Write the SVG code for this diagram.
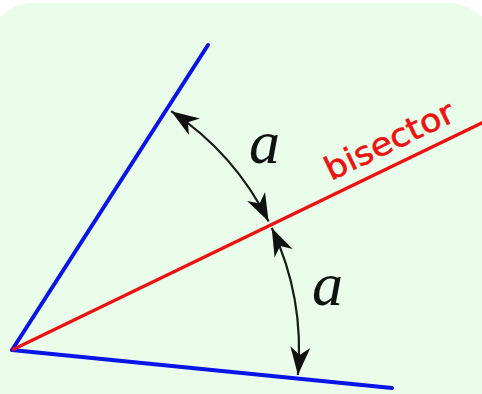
<svg xmlns="http://www.w3.org/2000/svg" width="482" height="394" viewBox="0 0 482 394">
<style>
.bg{fill:#eafdea}
.side{stroke:#0a14e6;stroke-width:4;fill:none;stroke-linecap:round}
.bis{stroke:#ee1111;stroke-width:3.2;fill:none}
.arc{stroke:#1a1a1a;stroke-width:2.2;fill:none;marker-start:url(#ah);marker-end:url(#ah)}
.lab{font-family:"Liberation Serif","Times New Roman",serif;font-style:italic;font-size:62px;fill:#111}
.bt{font-family:"DejaVu Sans","Comic Sans MS",sans-serif;font-size:32px;fill:#ee1111;stroke:#ee1111;stroke-width:0.6}
</style>
<defs>
<marker id="ah" viewBox="-30 -12 32 24" refX="0" refY="0" markerWidth="32" markerHeight="24" markerUnits="userSpaceOnUse" orient="auto-start-reverse">
<path d="M0,0 L-28,-10 L-20,0 L-28,10 Z" fill="#111"/>
</marker>
</defs>
<rect class="bg" x="-12" y="3" width="506" height="430" rx="45" ry="45"/>
<g id="angle">
<line class="side" x1="12" y1="350" x2="208" y2="45"/>
<line class="side" x1="12" y1="350" x2="392" y2="388"/>
</g>
<g id="bisector">
<line class="bis" x1="12" y1="350" x2="490" y2="119"/>
<text class="bt" x="331" y="181" textLength="140" lengthAdjust="spacingAndGlyphs" transform="rotate(-25.8 331 181)">bisector</text>
</g>
<g id="connectors">
<path class="arc" d="M171.2,111.2 A287,287 0 0 1 268.6,221.5"/>
<path class="arc" d="M271.7,227.8 A287,287 0 0 1 297.9,375"/>
</g>
<g id="labels">
<text class="lab" x="249" y="163">a</text>
<text class="lab" x="312" y="305">a</text>
</g>
</svg>
